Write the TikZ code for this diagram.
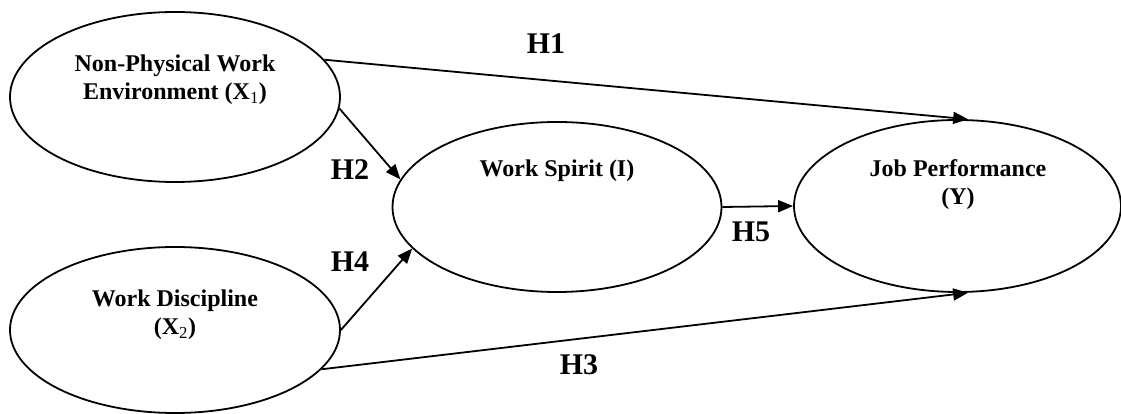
\documentclass[tikz,border=0pt]{standalone}
\usepackage{fontspec}
\setmainfont{Liberation Serif}
\usetikzlibrary{arrows.meta,shapes.geometric}
\tikzset{
  var/.style={draw=black, line width=1.8pt, ellipse, inner sep=0pt},
  vtext/.style={font=\fontsize{24}{28}\selectfont\bfseries, align=center, inner sep=0pt},
  hlabel/.style={font=\fontsize{30}{34}\selectfont\bfseries, inner sep=0pt},
  link/.style={line width=1.8pt, -{Triangle[length=15pt,width=12pt]}}
}
\newcommand{\subnum}[1]{\textsubscript{\mdseries #1}}
\begin{document}
\begin{tikzpicture}[x=1pt,y=1pt]
\useasboundingbox (0,0) rectangle (1121,414);
% ellipses
\node[var, minimum width=330pt, minimum height=170pt] (x1) at (175,317) {};
\node[var, minimum width=330pt, minimum height=166pt] (x2) at (175,84) {};
\node[var, minimum width=329pt, minimum height=170pt] (ws) at (557,207) {};
\node[var, minimum width=327pt, minimum height=172pt] (jp) at (957.5,208) {};
% texts
\node[vtext] (tx1) at (175,334) {Non-Physical Work\\Environment (X\subnum{1})};
\node[vtext] (tx2) at (175,99) {Work Discipline\\(X\subnum{2})};
\node[vtext, anchor=base] (tws) at (557,237) {Work Spirit (I)};
\node[vtext] (tjp) at (958,229) {Job Performance\\(Y)};
% connectors
\draw[link] (x1.14.4) -- (jp.83.4);
\draw[link] (x1.-4.5) -- (ws.170.5);
\draw[link] (x2.0.7) -- (ws.196);
\draw[link] (x2.-15.5) -- (jp.-83.4);
\draw[link] (ws.east) -- (jp.west);
% labels
\node[hlabel] (h1) at (546,370) {H1};
\node[hlabel] (h2) at (350,244) {H2};
\node[hlabel] (h4) at (350,152) {H4};
\node[hlabel] (h5) at (751,182) {H5};
\node[hlabel] (h3) at (579,49) {H3};
\end{tikzpicture}
\end{document}
